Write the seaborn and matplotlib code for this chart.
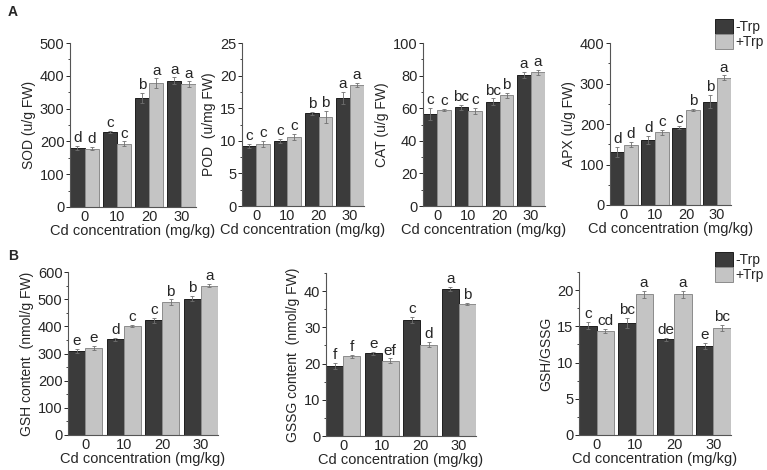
import numpy as np
import pandas as pd
import matplotlib
matplotlib.use("Agg")
import matplotlib.pyplot as plt
import seaborn as sns
from matplotlib.ticker import AutoMinorLocator, MultipleLocator
from matplotlib.patches import Patch

sns.set_style("ticks")
plt.rcParams['font.family'] = ['Liberation Sans', 'DejaVu Sans']

cd_levels = ["0", "10", "20", "30"]
treatments = ["-Trp", "+Trp"]

# means / errors / significance letters
sod_minus = [180, 228, 333, 385]
sod_plus = [178, 193, 377, 375]
sod_err_minus = [5, 3, 15, 10]
sod_err_plus = [5, 7, 15, 8]
sod_let_minus = ["d", "c", "b", "a"]
sod_let_plus = ["d", "c", "a", "a"]

pod_minus = [9.2, 10.0, 14.2, 16.6]
pod_plus = [9.5, 10.6, 13.7, 18.6]
pod_err_minus = [0.3, 0.3, 0.2, 0.9]
pod_err_plus = [0.5, 0.5, 0.9, 0.3]
pod_let_minus = ["c", "c", "b", "a"]
pod_let_plus = ["c", "c", "b", "a"]

cat_minus = [56.5, 60.5, 64.0, 80.5]
cat_plus = [58.8, 58.3, 67.8, 82.0]
cat_err_minus = [3.5, 1.5, 2.0, 1.8]
cat_err_plus = [0.6, 2.0, 1.5, 1.5]
cat_let_minus = ["c", "bc", "bc", "a"]
cat_let_plus = ["c", "c", "b", "a"]

apx_minus = [131, 161, 191, 255]
apx_plus = [149, 180, 234, 314]
apx_err_minus = [12, 10, 3, 16]
apx_err_plus = [6, 6, 3, 6]
apx_let_minus = ["d", "d", "c", "b"]
apx_let_plus = ["d", "c", "b", "a"]

gsh_minus = [310, 352, 422, 502]
gsh_plus = [321, 401, 489, 550]
gsh_err_minus = [8, 6, 10, 10]
gsh_err_plus = [8, 3, 10, 5]
gsh_let_minus = ["e", "d", "c", "b"]
gsh_let_plus = ["e", "c", "b", "a"]

gssg_minus = [19.3, 22.8, 32.0, 40.6]
gssg_plus = [22.0, 20.8, 25.2, 36.4]
gssg_err_minus = [0.8, 0.4, 0.8, 0.6]
gssg_err_plus = [0.5, 0.6, 0.7, 0.3]
gssg_let_minus = ["f", "e", "c", "a"]
gssg_let_plus = ["f", "ef", "d", "b"]

ratio_minus = [15.1, 15.5, 13.2, 12.3]
ratio_plus = [14.4, 19.4, 19.4, 14.8]
ratio_err_minus = [0.5, 0.7, 0.2, 0.4]
ratio_err_plus = [0.3, 0.5, 0.5, 0.4]
ratio_let_minus = ["c", "bc", "de", "e"]
ratio_let_plus = ["cd", "a", "a", "bc"]

dark = "#3b3b3b"
light = "#c4c4c4"
fs = 10.5

fig = plt.figure(figsize=(7.67, 4.70), dpi=100)

W, H = 767, 470
def add_ax(left, right, top, bottom):
    return fig.add_axes([left / W, 1 - bottom / H, (right - left) / W, (bottom - top) / H])

panels = [
    (add_ax(70, 196, 43, 207), sod_minus, sod_plus, sod_err_minus, sod_err_plus,
     sod_let_minus, sod_let_plus, "SOD (u/g FW)", 500, 100),
    (add_ax(242, 364, 43, 206), pod_minus, pod_plus, pod_err_minus, pod_err_plus,
     pod_let_minus, pod_let_plus, "POD  (u/mg FW)", 25, 5),
    (add_ax(423, 545, 43, 206), cat_minus, cat_plus, cat_err_minus, cat_err_plus,
     cat_let_minus, cat_let_plus, "CAT (u/g FW)", 100, 20),
    (add_ax(610, 731, 43, 205), apx_minus, apx_plus, apx_err_minus, apx_err_plus,
     apx_let_minus, apx_let_plus, "APX (u/g FW)", 400, 100),
    (add_ax(68, 218, 272, 435), gsh_minus, gsh_plus, gsh_err_minus, gsh_err_plus,
     gsh_let_minus, gsh_let_plus, "GSH content  (nmol/g FW)", 600, 100),
    (add_ax(326, 476, 273, 436), gssg_minus, gssg_plus, gssg_err_minus, gssg_err_plus,
     gssg_let_minus, gssg_let_plus, "GSSG content  (nmol/g FW)", 45, 10),
    (add_ax(579, 731, 272, 435), ratio_minus, ratio_plus, ratio_err_minus, ratio_err_plus,
     ratio_let_minus, ratio_let_plus, "GSH/GSSG", 22.5, 5),
]

for ax, vm, vp, em, ep, lm, lp, ylab, ymax, step in panels:
    df = pd.DataFrame({
        "cd": cd_levels * 2,
        "trt": [treatments[0]] * 4 + [treatments[1]] * 4,
        "val": vm + vp,
    })
    sns.barplot(data=df, x="cd", y="val", hue="trt", hue_order=treatments,
                palette=[dark, light], width=0.88, errorbar=None, legend=False,
                saturation=1, ax=ax)
    for cont, errs, lets, ec in zip(ax.containers, [em, ep], [lm, lp], ["#1e1e1e", "#8c8c8c"]):
        for bar, e, lt in zip(cont, errs, lets):
            bar.set_edgecolor(ec)
            bar.set_linewidth(0.7)
            cx = bar.get_x() + bar.get_width() / 2
            h = bar.get_height()
            ax.errorbar(cx, h, yerr=e, fmt="none", ecolor="#707070",
                        elinewidth=0.6, capsize=1.5, capthick=0.6)
            ax.text(cx, h + e + ymax * 0.005, lt, ha="center", va="bottom", fontsize=fs + 0.5)
    ax.set_xlim(-0.45, 3.45)
    ax.set_ylim(0, ymax)
    ax.yaxis.set_major_locator(MultipleLocator(step))
    ax.yaxis.set_minor_locator(AutoMinorLocator(2))
    ax.set_ylabel(ylab, fontsize=fs - 0.5, labelpad=3)
    ax.set_xlabel("Cd concentration (mg/kg)", fontsize=fs, labelpad=0)
    ax.tick_params(axis="y", which="major", length=3, width=0.7, labelsize=fs, pad=1)
    ax.tick_params(axis="y", which="minor", length=1.5, width=0.6)
    ax.tick_params(axis="x", length=0, labelsize=fs, pad=2)
    for s in ["top", "right"]:
        ax.spines[s].set_visible(False)
    for s in ["left", "bottom"]:
        ax.spines[s].set_linewidth(0.8)
        ax.spines[s].set_color("#555555")

handles = [Patch(facecolor=dark, edgecolor="#1e1e1e", linewidth=0.7),
           Patch(facecolor=light, edgecolor="#8c8c8c", linewidth=0.7)]
for ytop in [19 / H, 252 / H]:
    fig.legend(handles, treatments, loc="upper left", bbox_to_anchor=(715 / W, 1 - ytop),
               frameon=False, fontsize=fs - 0.5, handlelength=1.3, handleheight=1.25,
               handletextpad=0.15, labelspacing=0.0, borderpad=0, borderaxespad=0)

fig.text(8 / W, 1 - 12 / H, "A", fontsize=10, fontweight="bold", va="center")
fig.text(8 / W, 1 - 256 / H, "B", fontsize=10, fontweight="bold", va="center")

fig.savefig("out.png", dpi=100)
